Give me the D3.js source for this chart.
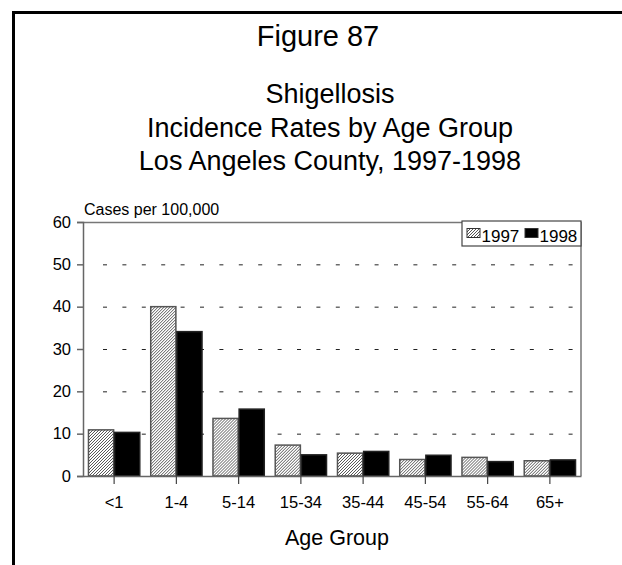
<!DOCTYPE html>
<html>
<head>
<meta charset="utf-8">
<script src="https://cdn.jsdelivr.net/npm/d3@7"></script>
<style>
  html, body { margin: 0; padding: 0; background: #fff; }
  svg { display: block; }
  text { font-family: "Liberation Sans", Arial, sans-serif; fill: #000; }
</style>
</head>
<body>
<svg id="chart" width="622" height="565"></svg>
<script>
// ---- data ----
const categories = ["<1", "1-4", "5-14", "15-34", "35-44", "45-54", "55-64", "65+"];
const seriesNames = ["1997", "1998"];
const rates1997 = [10.9, 40.0, 13.6, 7.3, 5.4, 3.9, 4.4, 3.6];
const rates1998 = [10.3, 34.1, 15.8, 5.0, 5.8, 4.9, 3.4, 3.8];
const yTicks = [0, 10, 20, 30, 40, 50, 60];
const titleLines = ["Shigellosis", "Incidence Rates by Age Group", "Los Angeles County, 1997-1998"];

const svg = d3.select("#chart");

// hatch pattern
const defs = svg.append("defs");
const pat = defs.append("pattern")
  .attr("id", "hatch").attr("patternUnits", "userSpaceOnUse")
  .attr("width", 3).attr("height", 3);
pat.append("rect").attr("width", 3).attr("height", 3).attr("fill", "#fff");
pat.append("path").attr("d", "M-1,1 l2,-2 M0,3 l3,-3 M2,4 l2,-2")
  .attr("stroke", "#555").attr("stroke-width", 1);

// outer frame (top and left)
svg.append("path")
  .attr("d", "M13.5,565 L13.5,12.5 L622,12.5")
  .attr("fill", "none").attr("stroke", "#000").attr("stroke-width", 3);

// titles
svg.append("text").attr("x", 318).attr("y", 46).attr("text-anchor", "middle")
  .style("font-size", "29px").text("Figure 87");
titleLines.forEach((t, i) => {
  svg.append("text").attr("x", 330).attr("y", 103 + i * 33.5).attr("text-anchor", "middle")
    .style("font-size", "27px").text(t);
});

// plot area
const L = 83, R = 581, T = 222, B = 476;
const x = d3.scaleBand().domain(categories).range([L, R]).paddingInner(0.16).paddingOuter(0.08);
const xs = d3.scaleBand().domain(seriesNames).range([0, x.bandwidth()]);
const y = d3.scaleLinear().domain([0, 60]).range([B, T]);

// gridlines
svg.append("g").selectAll("line").data(yTicks.filter(v => v > 0 && v < 60)).join("line")
  .attr("x1", L + 20).attr("x2", R - 2)
  .attr("y1", d => y(d) + 0.5).attr("y2", d => y(d) + 0.5)
  .attr("stroke", "#222").attr("stroke-width", 1).attr("stroke-dasharray", "4,15.4");

// plot top & right border
svg.append("path")
  .attr("d", `M${L},${T + 0.5} L${R},${T + 0.5} L${R},${B}`)
  .attr("fill", "none").attr("stroke", "#777").attr("stroke-width", 1.5);

// bars
const rows = categories.map((c, i) => ({ c, vals: [rates1997[i], rates1998[i]] }));
const g = svg.append("g").selectAll("g").data(rows).join("g")
  .attr("transform", d => `translate(${x(d.c)},0)`);
g.selectAll("rect").data(d => d.vals.map((v, j) => ({ v, s: seriesNames[j] }))).join("rect")
  .attr("x", d => xs(d.s) + 0.5)
  .attr("width", xs.bandwidth() - 1)
  .attr("y", d => y(d.v))
  .attr("height", d => B - y(d.v))
  .attr("fill", d => d.s === "1997" ? "url(#hatch)" : "#000")
  .attr("stroke", d => d.s === "1997" ? "#555" : "#222")
  .attr("stroke-width", 1.5);

// axes
const yAxis = d3.axisLeft(y).tickValues(yTicks).tickSize(6).tickPadding(6);
const ya = svg.append("g").attr("transform", `translate(${L},0)`).call(yAxis);
ya.select(".domain").attr("stroke", "#666").attr("stroke-width", 1.5);
ya.selectAll(".tick line").attr("stroke", "#666").attr("stroke-width", 1.5);
ya.selectAll(".tick text").style("font-size", "16.5px").style("font-family", "Liberation Sans, Arial, sans-serif").attr("fill", "#000");

const xAxis = d3.axisBottom(x).tickSize(8).tickPadding(12).tickSizeOuter(0);
const xa = svg.append("g").attr("transform", `translate(0,${B})`).call(xAxis);
xa.select(".domain").attr("stroke", "#666").attr("stroke-width", 1.5);
xa.selectAll(".tick line").attr("stroke", "#444").attr("stroke-width", 1.2);
xa.selectAll(".tick text").style("font-size", "16.5px").style("font-family", "Liberation Sans, Arial, sans-serif").attr("fill", "#000");

// axis titles
svg.append("text").attr("x", 84).attr("y", 215).style("font-size", "16px").text("Cases per 100,000");
svg.append("text").attr("x", 337).attr("y", 545).attr("text-anchor", "middle")
  .style("font-size", "21.5px").text("Age Group");

// legend
const lg = svg.append("g");
lg.append("rect").attr("x", 462).attr("y", 221).attr("width", 119).attr("height", 25)
  .attr("fill", "#fff").attr("stroke", "#444").attr("stroke-width", 1.2);
const legendX = [467, 525];
seriesNames.forEach((s, i) => {
  lg.append("rect").attr("x", legendX[i]).attr("y", 228.5).attr("width", 13).attr("height", 9)
    .attr("fill", s === "1997" ? "url(#hatch)" : "#000").attr("stroke", "#333").attr("stroke-width", 1);
  lg.append("text").attr("x", legendX[i] + 14.5).attr("y", 242).style("font-size", "17px").text(s);
});
</script>
</body>
</html>
